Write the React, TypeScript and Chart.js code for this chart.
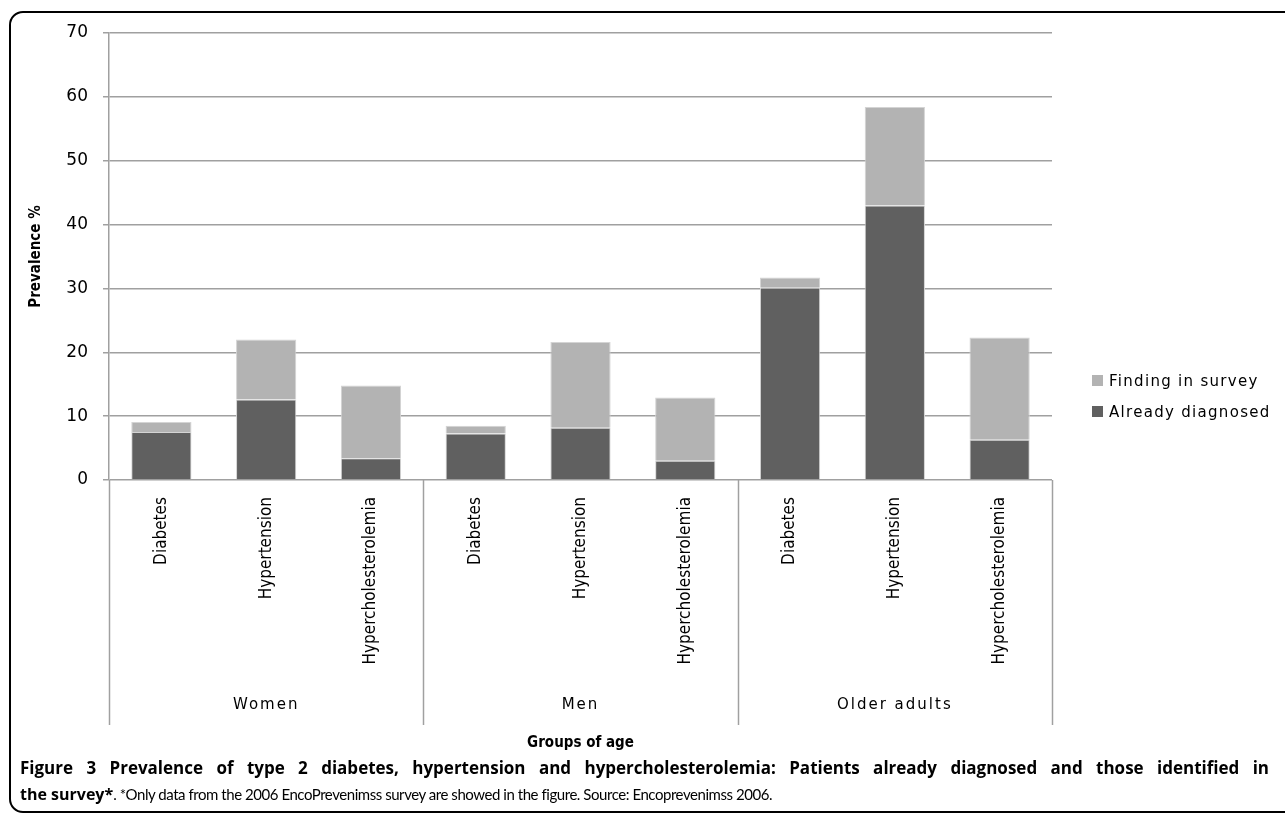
import React, { useEffect, useRef } from "react";
import { Chart, registerables } from "chart.js";

Chart.register(...registerables);

const categories = [
  "Diabetes", "Hypertension", "Hypercholesterolemia",
  "Diabetes", "Hypertension", "Hypercholesterolemia",
  "Diabetes", "Hypertension", "Hypercholesterolemia",
];
const groups = ["Women", "Men", "Older adults"];
const alreadyDiagnosed = [7.5, 12.6, 3.4, 7.3, 8.2, 3.0, 30.1, 43.0, 6.3];
const findingInSurvey = [1.6, 9.4, 11.4, 1.2, 13.4, 9.9, 1.6, 15.4, 16.0];
const yTicks = [0, 10, 20, 30, 40, 50, 60, 70];

const DARK = "#606060";
const LIGHT = "#b3b3b3";
const GRID = "#a0a0a0";
const COND = "'DejaVu Sans Condensed', 'DejaVu Sans', sans-serif";

const groupPlugin = {
  id: "groupSeparators",
  afterDraw(chart: any) {
    const x = chart.scales.x;
    const ctx = chart.ctx;
    const bottom = chart.chartArea.bottom;
    const per = categories.length / groups.length;
    ctx.save();
    ctx.strokeStyle = GRID;
    ctx.lineWidth = 1.5;
    for (let g = 0; g <= groups.length; g++) {
      const px = Math.round(x.getPixelForValue(g * per - 0.5)) + 0.5;
      ctx.beginPath();
      ctx.moveTo(px, bottom);
      ctx.lineTo(px, 725);
      ctx.stroke();
    }
    ctx.fillStyle = "#000";
    ctx.font = "15px 'DejaVu Sans'";
    (ctx as any).letterSpacing = "2px";
    ctx.textAlign = "center";
    ctx.textBaseline = "middle";
    groups.forEach((name, g) => {
      const px = x.getPixelForValue(g * per + (per - 1) / 2);
      ctx.fillText(name, px, 705);
    });
    ctx.restore();
  },
};

export default function App() {
  const canvasRef = useRef<HTMLCanvasElement | null>(null);

  useEffect(() => {
    document.body.style.margin = "0";
    const canvas = canvasRef.current;
    if (!canvas) return;
    const chart = new Chart(canvas, {
      type: "bar",
      data: {
        labels: categories,
        datasets: [
          {
            label: "Already diagnosed",
            data: alreadyDiagnosed,
            backgroundColor: DARK,
            borderColor: "#d4d4d4",
            borderWidth: 1,
            barPercentage: 0.575,
            categoryPercentage: 1,
          },
          {
            label: "Finding in survey",
            data: findingInSurvey,
            backgroundColor: LIGHT,
            borderColor: "#d4d4d4",
            borderWidth: 1,
            barPercentage: 0.575,
            categoryPercentage: 1,
          },
        ],
      },
      options: {
        animation: false,
        responsive: false,
        maintainAspectRatio: false,
        devicePixelRatio: 1,
        layout: { padding: { top: 33, right: 233, left: 0, bottom: 0 } },
        plugins: {
          legend: { display: false },
          tooltip: { enabled: false },
        },
        scales: {
          x: {
            stacked: true,
            grid: { display: false, drawTicks: false },
            border: { display: false },
            ticks: {
              color: "#000",
              minRotation: 90,
              maxRotation: 90,
              padding: 17,
              font: { family: COND, size: 17 },
            },
            title: {
              display: true,
              text: "Groups of age",
              color: "#000",
              font: { family: COND, size: 15, weight: "bold" },
              padding: { top: 0, bottom: 8 },
            },
            afterFit(axis: any) {
              axis.height = 280;
            },
          },
          y: {
            stacked: true,
            min: 0,
            max: 70,
            afterBuildTicks(axis: any) {
              axis.ticks = yTicks.map((v) => ({ value: v }));
            },
            grid: { color: GRID, lineWidth: 1.5, tickLength: 6 },
            border: { display: true, color: GRID, width: 1.5 },
            ticks: {
              color: "#000",
              padding: 15,
              font: { family: "'DejaVu Sans'", size: 17 },
            },
            title: {
              display: true,
              text: "Prevalence %",
              color: "#000",
              font: { family: COND, size: 15, weight: "bold" },
              padding: { top: 27, bottom: 0 },
            },
            afterFit(axis: any) {
              axis.width = 109;
            },
          },
        },
      },
      plugins: [groupPlugin],
    });
    return () => chart.destroy();
  }, []);

  const legendItem = (label: string, color: string) => (
    <div style={{ display: "flex", alignItems: "center", height: 31 }}>
      <span style={{ display: "inline-block", width: 11, height: 11, background: color, marginRight: 6 }} />
      <span style={{ letterSpacing: "1.3px" }}>{label}</span>
    </div>
  );

  return (
    <div style={{ position: "relative", width: 1285, height: 821, overflow: "hidden", background: "#fff" }}>
      <canvas ref={canvasRef} width={1285} height={760} style={{ position: "absolute", left: 0, top: 0, width: 1285, height: 760 }} />
      <div
        style={{
          position: "absolute", left: 9, top: 11, width: 1300, height: 802,
          border: "2px solid #000", borderRadius: "14px 0 0 14px", pointerEvents: "none", boxSizing: "border-box",
        }}
      />
      <div style={{ position: "absolute", left: 1092, top: 365, fontFamily: "'DejaVu Sans'", fontSize: 15, color: "#000" }}>
        {legendItem("Finding in survey", LIGHT)}
        {legendItem("Already diagnosed", DARK)}
      </div>
      <div style={{ position: "absolute", left: 20, top: 755, width: 1249, fontSize: 17, lineHeight: "26px", color: "#000" }}>
        <div style={{ fontFamily: "'Open Sans', sans-serif", textAlign: "justify", textAlignLast: "justify", fontWeight: "bold", whiteSpace: "nowrap" }}>
          Figure 3 Prevalence of type 2 diabetes, hypertension and hypercholesterolemia: Patients already diagnosed and those identified in
        </div>
        <div style={{ fontFamily: "Lato, sans-serif", fontSize: 15, letterSpacing: "-0.45px" }}>
          <b style={{ fontFamily: "'Open Sans', sans-serif", fontSize: 16, letterSpacing: 0 }}>the survey*</b>. *Only data from the 2006 EncoPrevenimss survey are showed in the figure. Source: Encoprevenimss 2006.
        </div>
      </div>
    </div>
  );
}
